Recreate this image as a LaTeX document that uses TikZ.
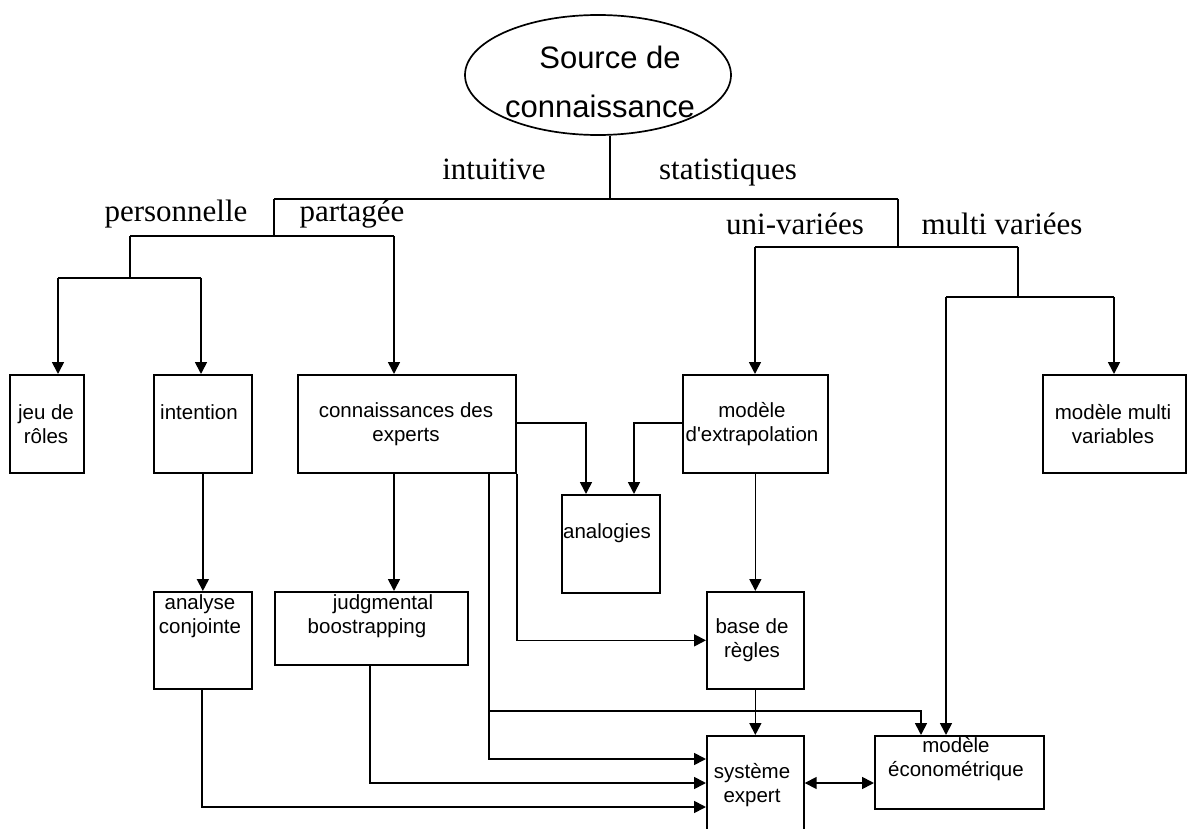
\documentclass[tikz,border=0pt]{standalone}
\usepackage{fontspec}
\setmainfont{Liberation Serif}
\setsansfont{Liberation Sans}[Ligatures=TeXOff]
\usetikzlibrary{arrows.meta,shapes.geometric}

\begin{document}
\begin{tikzpicture}[x=1pt,y=-1pt,
  line width=1.7pt,
  box/.style={draw, rectangle, inner sep=0pt, anchor=north west},
  txt/.style={font=\sffamily\fontsize{20.5}{24}\selectfont, align=center, inner sep=0pt},
  branch/.style={font=\rmfamily\fontsize{31}{31}\selectfont, inner sep=0pt, anchor=base},
  arr/.style={-{Triangle[length=12pt,width=12pt]}},
  biarr/.style={{Triangle[length=12pt,width=12pt]}-{Triangle[length=12pt,width=12pt]}},
  ]
\clip (0,0) rectangle (1187,829);

% root of the tree
\node[draw, ellipse, minimum width=266pt, minimum height=120pt, inner sep=0pt] (src) at (598,75) {};
\node[font=\sffamily\fontsize{31}{49}\selectfont, align=center, inner sep=0pt] (srct) at (600,82) {\hspace*{20pt}Source de\\connaissance};

% boxes
\node[box, minimum width=74pt,  minimum height=98pt]  (jeu)    at (9,374)   {};
\node[box, minimum width=98pt,  minimum height=98pt]  (intent) at (153,374) {};
\node[box, minimum width=218pt, minimum height=98pt]  (conn)   at (297,374) {};
\node[box, minimum width=145pt, minimum height=98pt]  (extra)  at (682,374) {};
\node[box, minimum width=143pt, minimum height=98pt]  (multi)  at (1042,374) {};
\node[box, minimum width=98pt,  minimum height=98pt]  (analog) at (561,494) {};
\node[box, minimum width=98pt,  minimum height=97pt]  (analyse) at (153,591) {};
\node[box, minimum width=193pt, minimum height=73pt]  (judg)   at (274,591) {};
\node[box, minimum width=97pt,  minimum height=97pt]  (base)   at (706,591) {};
\node[box, minimum width=97pt,  minimum height=110pt] (sys)    at (706,735) {};
\node[box, minimum width=169pt, minimum height=73pt]  (econ)   at (874,735) {};

% box texts
\node[txt] (jeut)    at (46,424)   {jeu de\\rôles};
\node[txt] (intentt) at (199,412)  {intention};
\node[txt] (connt)   at (406,424)  {connaissances des\\experts};
\node[txt] (extrat)  at (752,424)  {modèle\\d'extrapolation};
\node[txt] (multit)  at (1113,424) {modèle multi\\variables};
\node[txt] (analogt) at (607,533)  {analogies};
\node[txt] (analyset) at (200,616) {analyse\\conjointe};
\node[txt] (judgt)   at (367,616)  {\hspace*{32pt}judgmental\\boostrapping};
\node[txt] (baset)   at (752,640)  {base de\\règles};
\node[txt] (syst)    at (752,785)  {système\\expert};
\node[txt] (econt)   at (956,759)  {modèle\\économétrique};

% branch labels
\node[branch] (lint)  at (494,180)  {intuitive};
\node[branch] (lstat) at (728,180)  {statistiques};
\node[branch] (lpers) at (176,222)  {personnelle};
\node[branch] (lpart) at (352,222)  {partagée};
\node[branch] (luni)  at (795,235)  {uni-variées};
\node[branch] (lmul)  at (1002,235) {multi variées};

% junction points
\coordinate (root) at (610,199);
\coordinate (lj) at (274,199);
\coordinate (rj) at (898,199);
\coordinate (pj) at (274,236);
\coordinate (pl) at (130,236);
\coordinate (pr) at (394,236);
\coordinate (ql) at (130,278);
\coordinate (qa) at (58,278);
\coordinate (qb) at (201,278);
\coordinate (sj) at (898,247);
\coordinate (sa) at (755,247);
\coordinate (sb) at (1018,247);
\coordinate (sc) at (1018,297);
\coordinate (ma) at (946,297);
\coordinate (mb) at (1114,297);
\coordinate (an1) at (586,423);
\coordinate (an2) at (634,423);
\coordinate (ea) at (489,711);
\coordinate (eb) at (489,759);
\coordinate (ec) at (921,711);
\coordinate (jb) at (370,783);
\coordinate (ab) at (202,807);

% tree: intuitive side
\draw (src.south -| root) -- (root);
\draw (lj) -- (rj);
\draw (lj) -- (pj);
\draw (pl) -- (pr);
\draw (pl) -- (ql);
\draw (qa) -- (qb);
\draw[arr] (qa) -- (qa |- jeu.north);
\draw[arr] (qb) -- (qb |- intent.north);
\draw[arr] (pr) -- (pr |- conn.north);

% tree: statistical side
\draw (rj) -- (sj);
\draw (sa) -- (sb);
\draw[arr] (sa) -- (sa |- extra.north);
\draw (sb) -- (sc);
\draw (ma) -- (mb);
\draw[arr] (mb) -- (mb |- multi.north);
\draw[arr] (ma) -- (ma |- econ.north);

% analogies
\draw[arr] (conn.east |- an1) -- (an1) -- (an1 |- analog.north);
\draw[arr] (extra.west |- an2) -- (an2) -- (an2 |- analog.north);

% lower links
\draw[arr] (intent.south) -- (analyse.north);
\draw[arr] (conn.south -| pr) -- (pr |- judg.north);
\draw[arr] (extra.south) -- (base.north);
\draw[arr] (base.south) -- (sys.north);
\draw[arr] (conn.south east) -- (conn.south east |- base.west) -- (base.west);
\draw[arr] (conn.south -| ea) -- (eb) -- (sys.west |- eb);
\draw[arr] (ea) -- (ec) -- (ec |- econ.north);
\draw[arr] (judg.south -| jb) -- (jb) -- (sys.west |- jb);
\draw[arr] (analyse.south -| ab) -- (ab) -- (sys.west |- ab);
\draw[biarr] (sys.east |- jb) -- (econ.west |- jb);
\end{tikzpicture}
\end{document}
